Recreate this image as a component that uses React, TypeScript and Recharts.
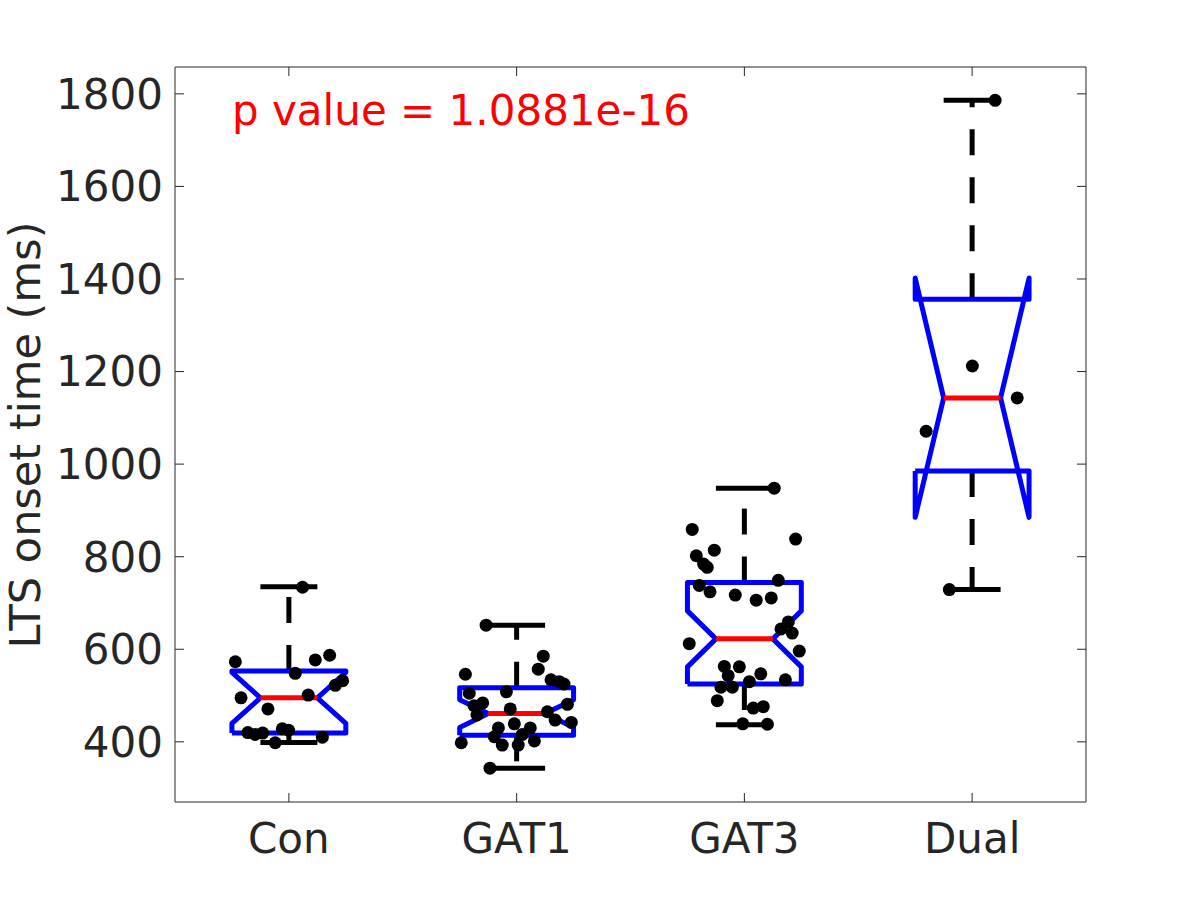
import { ComposedChart, Line, Scatter, XAxis, YAxis } from "recharts";

const categories = ["Con", "GAT1", "GAT3", "Dual"];
const yTicks = [400, 600, 800, 1000, 1200, 1400, 1600, 1800];

// box statistics, one per group
const upperWhisker = [735, 652, 948, 1786];
const q3 = [553, 517, 744, 1356];
const notchHigh = [550, 491, 683, 1402];
const median = [495, 461, 622.5, 1143];
const notchLow = [440, 431, 562, 885];
const q1 = [419, 414, 525, 985];
const lowerWhisker = [398.5, 343, 437, 729];

// raw observations + horizontal jitter (category units)
const conValues = [734, 573, 577, 587, 548, 522, 532, 495, 501, 471, 420, 416, 419, 428, 425, 410, 398];
const conJitter = [0.06, -0.235, 0.116, 0.179, 0.028, 0.204, 0.236, -0.21, 0.085, -0.092, -0.18, -0.148, -0.115, -0.029, -0.001, 0.147, -0.06];

const gat1Values = [652, 585, 546, 557, 534, 530, 525, 505, 508, 478, 484, 458, 471, 481, 465, 447, 442, 439, 430, 430, 411, 416, 402, 393, 393, 398, 343];
const gat1Jitter = [-0.134, 0.117, -0.225, 0.095, 0.151, 0.187, 0.208, -0.208, -0.045, -0.187, -0.149, -0.174, -0.028, 0.223, 0.135, 0.169, 0.24, -0.01, -0.08, 0.06, -0.098, 0.025, 0.078, -0.063, 0.007, -0.243, -0.117];

const gat3Values = [948, 859, 838, 814, 802, 784, 777, 749, 738, 724, 717, 706, 711, 659, 644, 635, 612, 596, 563, 562, 543, 547, 534, 530, 518, 518, 489, 473, 476, 439, 438];
const gat3Jitter = [0.131, -0.229, 0.225, -0.132, -0.211, -0.179, -0.163, 0.149, -0.198, -0.151, -0.04, 0.052, 0.118, 0.193, 0.161, 0.21, -0.242, 0.241, -0.088, -0.022, -0.071, 0.072, 0.18, 0.022, -0.103, -0.053, -0.119, 0.039, 0.083, -0.007, 0.101];

const dualValues = [1786, 1212, 1143, 1071, 729];
const dualJitter = [0.101, 0.001, 0.198, -0.202, -0.1];

const groupValues = [conValues, gat1Values, gat3Values, dualValues];
const groupJitter = [conJitter, gat1Jitter, gat3Jitter, dualJitter];

const BOX_HALF = 0.25;
const NOTCH_HALF = 0.125;
const CAP_HALF = 0.125;

const FONT = "DejaVu Sans";
const INK = "#262626";
const TICK = { fontSize: 42, fill: INK, fontFamily: FONT };

// notched outline as a closed path through the quartiles
function outline(i: number) {
  const c = i + 1;
  const l = c - BOX_HALF;
  const r = c + BOX_HALF;
  return [
    { x: l, y: q1[i] },
    { x: l, y: notchLow[i] },
    { x: c - NOTCH_HALF, y: median[i] },
    { x: l, y: notchHigh[i] },
    { x: l, y: q3[i] },
    { x: r, y: q3[i] },
    { x: r, y: notchHigh[i] },
    { x: c + NOTCH_HALF, y: median[i] },
    { x: r, y: notchLow[i] },
    { x: r, y: q1[i] },
    { x: l, y: q1[i] },
  ];
}

const points = groupValues.flatMap((vals, g) =>
  vals.map((v, k) => ({ x: g + 1 + groupJitter[g][k], y: v }))
);

function seg(key: string, data: { x: number; y: number }[], stroke: string, dashed = false) {
  return (
    <Line
      key={key}
      xAxisId="b"
      yAxisId="l"
      data={data}
      dataKey="y"
      stroke={stroke}
      strokeWidth={5}
      strokeDasharray={dashed ? "26 22" : undefined}
      strokeLinejoin="round"
      dot={false}
      activeDot={false}
      isAnimationActive={false}
    />
  );
}

export default function App() {
  return (
    <div style={{ position: "absolute", left: 0, top: 0, width: 1200, height: 900, background: "#fff" }}>
      <ComposedChart width={1200} height={900} margin={{ top: 57, right: 104, bottom: 38, left: 0 }}>
        <XAxis
          xAxisId="b"
          type="number"
          dataKey="x"
          domain={[0.5, 4.5]}
          ticks={[1, 2, 3, 4]}
          tickFormatter={(v) => categories[v - 1]}
          height={60}
          tickSize={-9}
          tickMargin={30}
          tick={TICK}
          stroke={INK}
          allowDataOverflow
        />
        <XAxis
          xAxisId="t"
          orientation="top"
          type="number"
          dataKey="x"
          domain={[0.5, 4.5]}
          ticks={[1, 2, 3, 4]}
          tickFormatter={() => ""}
          height={10}
          tickSize={-9}
          stroke={INK}
          allowDataOverflow
        />
        <YAxis
          yAxisId="l"
          type="number"
          dataKey="y"
          domain={[270, 1858]}
          ticks={yTicks}
          width={175}
          tickSize={-9}
          tickMargin={21}
          tick={TICK}
          stroke={INK}
          allowDataOverflow
        />
        <YAxis
          yAxisId="r"
          orientation="right"
          type="number"
          dataKey="y"
          domain={[270, 1858]}
          ticks={yTicks}
          tickFormatter={() => ""}
          width={10}
          tickSize={-9}
          stroke={INK}
          allowDataOverflow
        />

        {categories.map((_, i) => seg("wu" + i, [{ x: i + 1, y: q3[i] }, { x: i + 1, y: upperWhisker[i] }], "#000", true))}
        {categories.map((_, i) => seg("wl" + i, [{ x: i + 1, y: q1[i] }, { x: i + 1, y: lowerWhisker[i] }], "#000", true))}
        {categories.map((_, i) =>
          seg("cu" + i, [{ x: i + 1 - CAP_HALF, y: upperWhisker[i] }, { x: i + 1 + CAP_HALF, y: upperWhisker[i] }], "#000")
        )}
        {categories.map((_, i) =>
          seg("cl" + i, [{ x: i + 1 - CAP_HALF, y: lowerWhisker[i] }, { x: i + 1 + CAP_HALF, y: lowerWhisker[i] }], "#000")
        )}
        {categories.map((_, i) => seg("box" + i, outline(i), "#0000ff"))}
        {categories.map((_, i) =>
          seg("med" + i, [{ x: i + 1 - NOTCH_HALF, y: median[i] }, { x: i + 1 + NOTCH_HALF, y: median[i] }], "#ff0000")
        )}

        <Scatter
          xAxisId="b"
          yAxisId="l"
          data={points}
          dataKey="y"
          fill="#000"
          shape={(p: any) => <circle cx={p.cx} cy={p.cy} r={6.5} fill="#000" />}
          isAnimationActive={false}
        />

        <text
          x={40}
          y={435}
          transform="rotate(-90 40 435)"
          textAnchor="middle"
          fontSize={43}
          fontFamily={FONT}
          fill={INK}
        >
          LTS onset time (ms)
        </text>
        <text x={232} y={125} fontSize={42} fontFamily={FONT} fill="#ff0000">
          p value = 1.0881e-16
        </text>
      </ComposedChart>
    </div>
  );
}
